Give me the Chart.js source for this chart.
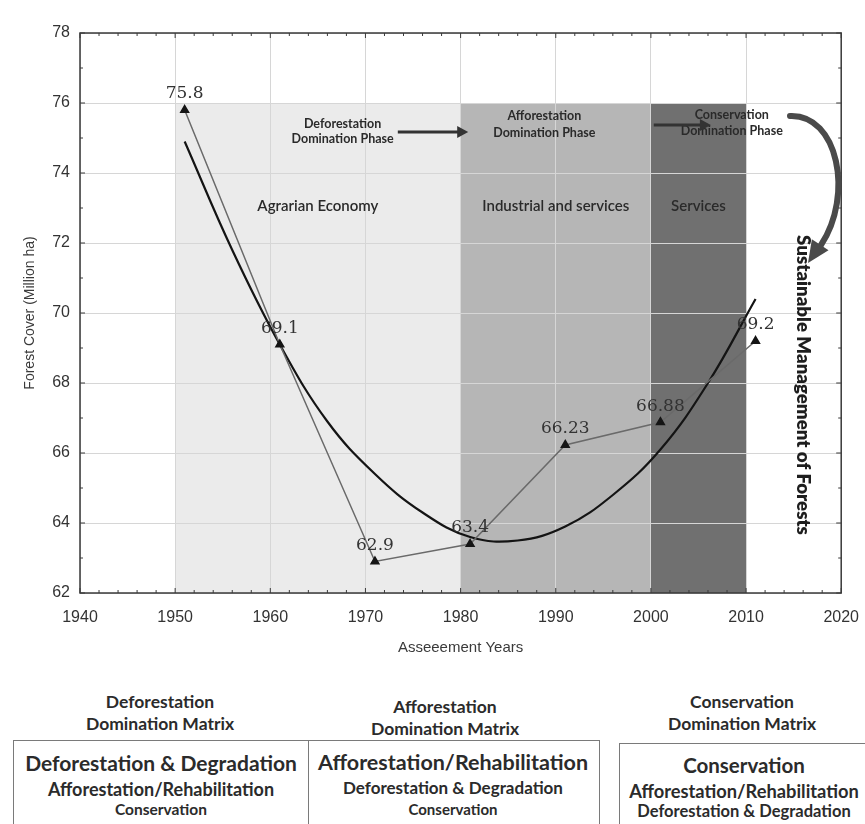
<!DOCTYPE html>
<html>
<head>
<meta charset="utf-8">
<script src="https://cdn.jsdelivr.net/npm/chart.js@4.4.1/dist/chart.umd.min.js"></script>
<style>
  body { margin: 0; background: #fff; width: 865px; height: 824px; position: relative; overflow: hidden;
         font-family: Lato, "Open Sans", sans-serif; color: #2b2b2b; }
  #wrap { position: absolute; left: 0; top: 0; width: 865px; height: 670px; }
  .head { position: absolute; width: 300px; text-align: center; font-weight: 700; font-size: 17.5px; line-height: 22px; }
  .box { position: absolute; height: 110px; border: 1.5px solid #7a7a7a; border-bottom: none; font-weight: 700; }
  .box div { position: absolute; left: 0; right: 0; text-align: center; white-space: nowrap; line-height: 24px; }
</style>
</head>
<body>
<div id="wrap"><canvas id="forestChart" width="865" height="670"></canvas></div>

<div class="head" style="left:10px; top:691px">Deforestation<br>Domination Matrix</div>
<div class="head" style="left:295px; top:696px">Afforestation<br>Domination Matrix</div>
<div class="head" style="left:592px; top:691px">Conservation<br>Domination Matrix</div>

<div class="box" style="left:13px; top:740px; width:294px">
  <div style="top:10px; font-size:21px">Deforestation &amp; Degradation</div>
  <div style="top:36px; font-size:18px">Afforestation/Rehabilitation</div>
  <div style="top:56px; font-size:15.5px">Conservation</div>
</div>
<div class="box" style="left:307px; top:740px; width:292px; border-left:none">
  <div style="top:9px; font-size:21.5px">Afforestation/Rehabilitation</div>
  <div style="top:35px; font-size:17px">Deforestation &amp; Degradation</div>
  <div style="top:56px; font-size:15px">Conservation</div>
</div>
<div class="box" style="left:619px; top:743px; width:260px">
  <div style="top:9px; width:248px; font-size:20.5px">Conservation</div>
  <div style="top:35px; width:248px; font-size:18.3px">Afforestation/Rehabilitation</div>
  <div style="top:55px; width:248px; font-size:16.5px">Deforestation &amp; Degradation</div>
</div>

<script>
// assessment years and forest cover (million ha)
const years = [1951, 1961, 1971, 1981, 1991, 2001, 2011];
const forestCover = [75.8, 69.1, 62.9, 63.4, 66.23, 66.88, 69.2];
const coverLabels = ['75.8', '69.1', '62.9', '63.4', '66.23', '66.88', '69.2'];

// fitted trend curve, every 5 years
const trendYears = [1951, 1956, 1961, 1966, 1971, 1976, 1981, 1986, 1991, 1996, 2001, 2006, 2011];
const trendCover = [74.9, 71.8, 69.1, 66.9, 65.4, 64.3, 63.6, 63.5, 63.9, 64.8, 66.1, 68.0, 70.4];

// axis ticks
const xTicks = [1940, 1950, 1960, 1970, 1980, 1990, 2000, 2010, 2020];
const yTicks = [62, 64, 66, 68, 70, 72, 74, 76, 78];

// economy phases (shaded bands)
const phaseStart = [1950, 1980, 2000];
const phaseEnd = [1980, 2000, 2010];
const phaseTop = 76;
const phaseNames = ['Agrarian Economy', 'Industrial and services', 'Services'];
const phaseTitles = [
  ['Deforestation', 'Domination Phase'],
  ['Afforestation', 'Domination Phase'],
  ['Conservation', 'Domination Phase']
];

const phaseFill = ['#ebebeb', '#b6b6b6', '#707070'];
const sans = 'Lato, "Open Sans", sans-serif';

function arrowHead(ctx, tx, ty, dx, dy, len, half) {
  const bx = tx - dx * len, by = ty - dy * len;
  ctx.beginPath();
  ctx.moveTo(tx, ty);
  ctx.lineTo(bx - dy * half, by + dx * half);
  ctx.lineTo(bx + dy * half, by - dx * half);
  ctx.closePath();
  ctx.fill();
}

const decor = {
  id: 'decor',
  beforeDraw(chart) {
    const { ctx, chartArea: a, scales: { x, y } } = chart;
    ctx.save();
    const yt = y.getPixelForValue(phaseTop);
    phaseStart.forEach((s, i) => {
      const x0 = x.getPixelForValue(s), x1 = x.getPixelForValue(phaseEnd[i]);
      ctx.fillStyle = phaseFill[i];
      ctx.fillRect(x0, yt, x1 - x0, a.bottom - yt);
    });
    ctx.restore();
  },
  beforeDatasetsDraw(chart) {
    const { ctx, scales: { x, y } } = chart;
    const yt = y.getPixelForValue(phaseTop);
    ctx.save();
    ctx.fillStyle = '#2a2a2a';
    ctx.textAlign = 'center';
    ctx.textBaseline = 'middle';

    // band names
    ctx.font = '600 15px ' + sans;
    phaseNames.forEach((n, i) => {
      const cx = x.getPixelForValue((phaseStart[i] + phaseEnd[i]) / 2);
      ctx.fillText(n, cx, y.getPixelForValue(73.05));
    });

    // phase titles
    const titleX = [1967.6, 1988.8, 2008.5];
    const titleOff = [[21, 36], [13, 30], [12, 28]];
    ctx.font = 'bold 12.5px ' + sans;
    phaseTitles.forEach((t, i) => {
      const cx = x.getPixelForValue(titleX[i]);
      ctx.fillText(t[0], cx, yt + titleOff[i][0]);
      ctx.fillText(t[1], cx, yt + titleOff[i][1]);
    });

    // straight arrows between phases
    ctx.strokeStyle = '#333';
    ctx.fillStyle = '#333';
    ctx.lineWidth = 3;
    [[1973.4, 1980.8, 29], [2000.3, 2006.3, 22]].forEach(([a0, a1, off]) => {
      const x0 = x.getPixelForValue(a0), x1 = x.getPixelForValue(a1), py = yt + off;
      ctx.beginPath();
      ctx.moveTo(x0, py);
      ctx.lineTo(x1 - 8, py);
      ctx.stroke();
      arrowHead(ctx, x1, py, 1, 0, 11, 6);
    });
    ctx.restore();
  },
  afterDatasetsDraw(chart) {
    const { ctx, chartArea: a, scales: { x, y } } = chart;
    ctx.save();

    // frame
    ctx.strokeStyle = '#3a3a3a';
    ctx.lineWidth = 1.5;
    ctx.strokeRect(a.left, a.top, a.width, a.height);

    // inner tick marks on all four sides
    ctx.lineWidth = 1;
    for (let v = 1940; v <= 2020; v += 2) {
      const px = x.getPixelForValue(v), l = v % 10 === 0 ? 5 : 3;
      ctx.beginPath();
      ctx.moveTo(px, a.bottom); ctx.lineTo(px, a.bottom - l);
      ctx.moveTo(px, a.top); ctx.lineTo(px, a.top + l);
      ctx.stroke();
    }
    for (let v = 62; v <= 78; v += 1) {
      const py = y.getPixelForValue(v), l = v % 2 === 0 ? 5 : 3;
      ctx.beginPath();
      ctx.moveTo(a.left, py); ctx.lineTo(a.left + l, py);
      ctx.moveTo(a.right, py); ctx.lineTo(a.right - l, py);
      ctx.stroke();
    }

    // value labels
    const meta = chart.getDatasetMeta(0);
    ctx.fillStyle = '#333';
    ctx.font = '17px "DejaVu Serif", serif';
    ctx.textAlign = 'center';
    ctx.textBaseline = 'middle';
    meta.data.forEach((pt, i) => {
      ctx.fillText(coverLabels[i], pt.x, pt.y - 16);
    });

    // curved arrow towards sustainable management
    ctx.strokeStyle = '#4a4a4a';
    ctx.fillStyle = '#4a4a4a';
    ctx.lineWidth = 6;
    ctx.lineCap = 'round';
    ctx.beginPath();
    ctx.moveTo(790, 116);
    ctx.bezierCurveTo(838, 114, 854, 195, 821, 245);
    ctx.stroke();
    arrowHead(ctx, 808, 263, -0.555, 0.832, 22, 10);

    // vertical caption
    const text = 'Sustainable Management of Forests';
    ctx.fillStyle = '#1e1e1e';
    ctx.font = '800 16px ' + sans;
    const w = ctx.measureText(text).width;
    ctx.font = '800 ' + (16 * 300 / w).toFixed(2) + 'px ' + sans;
    ctx.translate(803, 385);
    ctx.rotate(Math.PI / 2);
    ctx.fillText(text, 0, 0);
    ctx.restore();
  }
};

const tickFont = { family: 'Liberation Sans, Arial, sans-serif', size: 16 };

const ctx = document.getElementById('forestChart').getContext('2d');
const forestChart = new Chart(ctx, {
  type: 'scatter',
  data: {
    datasets: [
      {
        label: 'Forest cover',
        data: years.map((yr, i) => ({ x: yr, y: forestCover[i] })),
        showLine: true,
        borderColor: '#6a6a6a',
        borderWidth: 1.5,
        pointStyle: 'triangle',
        pointRadius: 4.5,
        pointBackgroundColor: '#151515',
        pointBorderColor: '#151515',
        tension: 0
      },
      {
        label: 'Trend',
        data: trendYears.map((yr, i) => ({ x: yr, y: trendCover[i] })),
        showLine: true,
        borderColor: '#141414',
        borderWidth: 2.2,
        pointRadius: 0,
        tension: 0.4
      }
    ]
  },
  options: {
    responsive: false,
    animation: false,
    devicePixelRatio: 1,
    layout: { padding: { top: 33, right: 23, left: 0, bottom: 0 } },
    plugins: { legend: { display: false }, tooltip: { enabled: false } },
    scales: {
      x: {
        type: 'linear',
        min: 1940,
        max: 2020,
        afterBuildTicks: s => { s.ticks = xTicks.map(v => ({ value: v })); },
        afterFit: s => { s.height = 77; },
        grid: { color: '#d6d6d6', lineWidth: 1, drawTicks: true, tickLength: 9, tickColor: 'rgba(0,0,0,0)' },
        border: { display: false },
        ticks: { padding: 6, color: '#333', font: tickFont, callback: v => String(v) },
        title: {
          display: true,
          text: 'Asseeement Years',
          color: '#3a3a3a',
          font: { family: 'Liberation Sans, Arial, sans-serif', size: 15 },
          padding: { top: 0, bottom: 13 }
        }
      },
      y: {
        min: 62,
        max: 78,
        afterBuildTicks: s => { s.ticks = yTicks.map(v => ({ value: v })); },
        afterFit: s => { s.width = 80; },
        grid: { color: '#d6d6d6', lineWidth: 1, drawTicks: false },
        border: { display: false },
        ticks: { padding: 10, color: '#333', font: tickFont, callback: v => String(v) },
        title: {
          display: true,
          text: 'Forest Cover (Million ha)',
          color: '#3a3a3a',
          font: { family: 'Liberation Sans, Arial, sans-serif', size: 14 },
          padding: { top: 22, bottom: 0 }
        }
      }
    }
  },
  plugins: [decor]
});
</script>
</body>
</html>
